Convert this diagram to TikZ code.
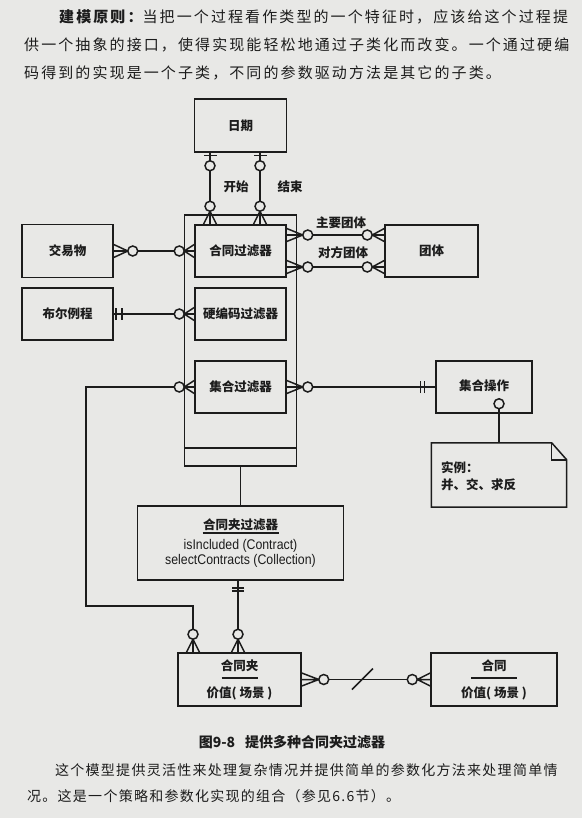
\documentclass[tikz,border=0pt]{standalone}
\usepackage{fontspec}
\usepackage{graphicx}
\usetikzlibrary{calc}
\newfontfamily\cjk{Noto Sans CJK SC}
\newfontfamily\cjkwide[LetterSpace=14]{Noto Sans CJK SC}
\newfontfamily\cjkpara[LetterSpace=9]{Noto Sans CJK SC}
\newfontfamily\latin{Liberation Sans}
\definecolor{paper}{HTML}{E8E8E6}
\definecolor{ink}{HTML}{1C1C1C}

\tikzset{
  conn/.style={draw=ink, line width=1.5pt},
  box/.style={draw=ink, line width=1.5pt, rectangle, inner sep=0pt,
    font=\cjk\bfseries\fontsize{12.5}{15}\selectfont, text=ink},
  rolelabel/.style={inner sep=0pt, font=\cjk\bfseries\fontsize{12.5}{15}\selectfont, text=ink},
  prose/.style={inner sep=0pt, anchor=west, text=ink},
}

% crow's foot with a ring: "zero or many"
\newcommand\manyend[3]{%
  \begin{scope}[shift={#1},rotate=#2]
    \draw[conn] (0,-6.5) -- ({#3-5},0) (0,6.5) -- ({#3-5},0) (0,0) -- (#3,0);
    \draw[conn,fill=paper] (#3,0) circle[radius=5];
  \end{scope}}
% bar with a ring: "zero or one"
\newcommand\optend[4]{%
  \begin{scope}[shift={#1},rotate=#2]
    \draw[conn] (#3,-6.5) -- (#3,6.5) (0,0) -- (#4,0);
    \draw[conn,fill=paper] (#4,0) circle[radius=5];
  \end{scope}}
% two bars: "exactly one"
\newcommand\barsend[4]{%
  \begin{scope}[shift={#1},rotate=#2]
    \draw[conn] (#3,-6) -- (#3,6) (#4,-6) -- (#4,6);
  \end{scope}}

\begin{document}
\begin{tikzpicture}[x=1pt,y=-1pt]
\fill[paper] (0,0) rectangle (582,818);
\useasboundingbox (0,0) rectangle (582,818);

% heading paragraph
\node[prose, font=\cjkwide\fontsize{15}{18}\selectfont] (h1) at (59,17)
  {{\bfseries 建模原则：}当把一个过程看作类型的一个特征时，应该给这个过程提};
\node[prose, font=\cjkwide\fontsize{15}{18}\selectfont] (h2) at (24,45)
  {供一个抽象的接口，使得实现能轻松地通过子类化而改变。一个通过硬编};
\node[prose, font=\cjkwide\fontsize{15}{18}\selectfont] (h3) at (24,73)
  {码得到的实现是一个子类，不同的参数驱动方法是其它的子类。};

% classes
\node[box, minimum width=92, minimum height=53] (date) at (240.5,125.5) {日期};
\node[draw=ink, line width=1.5pt, minimum width=112, minimum height=251, inner sep=0pt] (filters) at (240.5,340.5) {};
\draw[conn] ($(filters.south west)+(0,-19)$) -- ($(filters.south east)+(0,-19)$);
\node[box, minimum width=91, minimum height=52] (cf) at (240.5,251) {合同过滤器};
\node[box, minimum width=91, minimum height=52] (hc) at (240.5,314) {硬编码过滤器};
\node[box, minimum width=91, minimum height=52] (sf) at (240.5,387) {集合过滤器};
\node[box, minimum width=91, minimum height=53] (deal) at (67.5,251) {交易物};
\node[box, minimum width=91, minimum height=52] (bool) at (67.5,314) {布尔例程};
\node[box, minimum width=93, minimum height=52] (party) at (431.5,251) {团体};
\node[box, minimum width=96, minimum height=52] (setop) at (484,387) {\raisebox{4pt}{集合操作}};
\node[box, minimum width=206, minimum height=74, align=center] (cff) at (240.5,543)
  {合同夹过滤器\\[5pt]
   {\latin\mdseries\fontsize{14}{17}\selectfont\scalebox{0.88}[1]{isIncluded (Contract)}}\\
   {\latin\mdseries\fontsize{14}{17}\selectfont\scalebox{0.88}[1]{selectContracts (Collection)}}};
\draw[conn] ($(cff.center)+(-38,-10)$) -- ($(cff.center)+(38,-10)$);
\node[box, minimum width=123, minimum height=53, align=center,
  font=\cjk\bfseries\fontsize{12.5}{27}\selectfont] (folder) at (239.5,679.5) {合同夹\\价值( 场景 )};
\draw[conn] ($(folder.center)+(-18,-1.5)$) -- ($(folder.center)+(18,-1.5)$);
\node[box, minimum width=126, minimum height=53, align=center,
  font=\cjk\bfseries\fontsize{12.5}{27}\selectfont] (contract) at (494,679.5) {合同\\价值( 场景 )};
\draw[conn] ($(contract.center)+(-23,-1.5)$) -- ($(contract.center)+(23,-1.5)$);

% note with folded corner
\node[minimum width=135, minimum height=64, inner sep=0pt] (note) at (499,475) {};
\draw[conn, line join=miter]
  (note.north west) -- ($(note.north east)+(-15,0)$) -- ($(note.north east)+(0,17)$)
  -- (note.south east) -- (note.south west) -- cycle;
\draw[conn] ($(note.north east)+(-15,0)$) -- ($(note.north east)+(-15,17)$) -- ($(note.north east)+(0,17)$);
\node[anchor=west, align=left, inner sep=0pt, text=ink,
  font=\cjk\bfseries\fontsize{12.5}{17}\selectfont] (notetext) at (441,476.5) {实例：\\并、交、求反};

% date roles
\draw[conn] ($(date.south)+(-30.5,0)$) -- ($(cf.north)+(-30.5,0)$);
\draw[conn] ($(date.south)+(19.5,0)$) -- ($(cf.north)+(19.5,0)$);
\optend{($(date.south)+(-30.5,0)$)}{-90}{3}{13}
\optend{($(date.south)+(19.5,0)$)}{-90}{3}{13}
\manyend{($(cf.north)+(-30.5,0)$)}{90}{18}
\manyend{($(cf.north)+(19.5,0)$)}{90}{18}
\node[rolelabel] (lstart) at (236,187) {开始};
\node[rolelabel] (lend) at (290,187) {结束};

% deal and boolean routine
\draw[conn] (deal.east) -- (cf.west);
\manyend{(deal.east)}{0}{19}
\manyend{(cf.west)}{180}{15}
\draw[conn] (bool.east) -- (hc.west);
\barsend{(bool.east)}{0}{2}{8}
\manyend{(hc.west)}{180}{15}

% parties
\draw[conn] ($(cf.east)+(0,-16)$) -- ($(party.west)+(0,-16)$);
\draw[conn] ($(cf.east)+(0,16)$) -- ($(party.west)+(0,16)$);
\manyend{($(cf.east)+(0,-16)$)}{0}{21}
\manyend{($(cf.east)+(0,16)$)}{0}{21}
\manyend{($(party.west)+(0,-16)$)}{180}{17}
\manyend{($(party.west)+(0,16)$)}{180}{17}
\node[rolelabel] (lmain) at (341,223) {主要团体};
\node[rolelabel] (lother) at (343,253) {对方团体};

% set operation
\draw[conn] (sf.east) -- (setop.west);
\manyend{(sf.east)}{0}{21}
\barsend{(setop.west)}{180}{11}{15}
\coordinate (ring) at ($(note.north |- setop.south)+(0,-10)$);
\draw[conn] (note.north) -- (ring);
\draw[conn, fill=paper] (ring) circle[radius=5];

% supertype to portfolio filter
\draw[conn] (filters.south) -- (cff.north);

% filters to portfolio
\coordinate (bend) at (86,606);
\coordinate (fl) at ($(folder.north)+(-46.5,0)$);
\coordinate (fr) at ($(folder.north)+(-1.5,0)$);
\draw[conn] (sf.west) -| (bend) -| (fl);
\manyend{(sf.west)}{180}{15}
\manyend{(fl)}{90}{18}
\draw[conn] (cff.south -| fr) -- (fr);
\barsend{(cff.south -| fr)}{-90}{7}{10}
\manyend{(fr)}{90}{18}

% portfolio to contract
\draw[conn] (folder.east) -- (contract.west);
\manyend{(folder.east)}{0}{22}
\manyend{(contract.west)}{180}{18}
\coordinate (mid) at (362.5,679);
\draw[conn] ($(mid)+(-10.5,10.5)$) -- ($(mid)+(10.5,-10.5)$);

% caption and closing paragraph
\node[inner sep=0pt, text=ink, font=\cjk\bfseries\fontsize{14}{17}\selectfont] (caption) at (292,742)
  {图9-8\hspace{10pt}提供多种合同夹过滤器};
\node[prose, font=\cjkpara\fontsize{14}{17}\selectfont] (p1) at (55,770)
  {这个模型提供灵活性来处理复杂情况并提供简单的参数化方法来处理简单情};
\node[prose, font=\cjkpara\fontsize{14}{17}\selectfont] (p2) at (27,796)
  {况。这是一个策略和参数化实现的组合（参见6.6节）。};
\end{tikzpicture}
\end{document}
